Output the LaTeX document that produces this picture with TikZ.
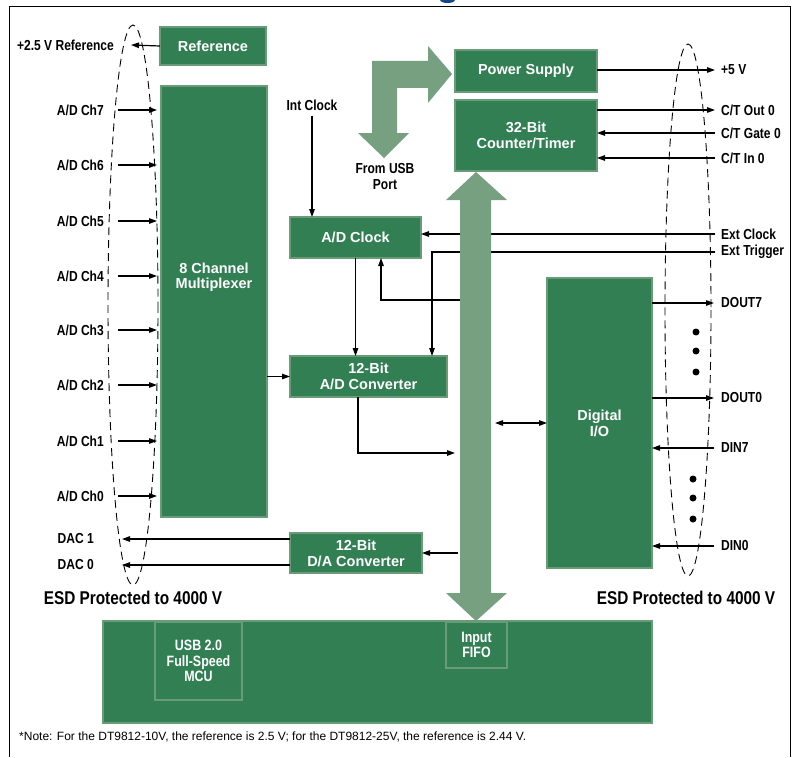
\documentclass[tikz,border=0pt]{standalone}
\usepackage{fontspec}
\setmainfont{Liberation Sans}
\newfontfamily\narrowsans{Liberation Sans}[FakeStretch=0.83]
\usetikzlibrary{arrows.meta,positioning,shapes.geometric}
\definecolor{boardgreen}{RGB}{50,127,84}
\definecolor{rimgreen}{RGB}{105,155,120}
\definecolor{busgreen}{RGB}{118,160,128}
\definecolor{titleblue}{RGB}{20,70,140}

\begin{document}
\begin{tikzpicture}[x=1pt, y=-1pt,
		>={Triangle[length=8pt,width=5.5pt]},
		block/.style = { rectangle, fill=boardgreen, draw=rimgreen, line width=1.5pt,
			text=white, font=\fontsize{14.5}{16}\selectfont\bfseries,
			align=center, inner sep=0pt, outer sep=0pt },
		chip/.style  = { block, font=\narrowsans\fontsize{15}{15.5}\selectfont\bfseries },
		pin/.style   = { font=\narrowsans\fontsize{14.5}{16}\selectfont\bfseries, inner sep=0pt },
		esd/.style   = { font=\narrowsans\fontsize{18.5}{20}\selectfont\bfseries, inner sep=0pt },
		line/.style  = { draw, line width=1.2pt, -> },
		zone/.style  = { draw, dash pattern=on 8pt off 5pt, line width=0.9pt },
	]
	\useasboundingbox (0,0) rectangle (794,757);
	% frame and cut title
	\draw[line width=0.8pt] (9,757) -- (9,6) -- (790,6) -- (790,757);
	\fill[titleblue] (440,0) .. controls (441,4) and (454,4) .. (455,0) -- cycle;
	% ESD zones
	\path[zone] (133,305) ellipse [x radius=25, y radius=280];
	\path[zone] (688,310) ellipse [x radius=23, y radius=266];
	% Define nodes
	\begin{scope}
		\node [block, minimum width=106pt, minimum height=38pt] (ref) at (213,46) {Reference};
		\node [block, minimum width=106pt, minimum height=431pt] (mux) at (214,301.5) {};
		\node [text=white, font=\fontsize{14.5}{14.5}\selectfont\bfseries, align=center] (muxtext) at (214,277) {8 Channel\\Multiplexer};
		\node [block, minimum width=131pt, minimum height=41pt] (adclk) at (355.5,237.5) {A/D Clock};
		\node [block, minimum width=157pt, minimum height=41pt] (adc) at (368.5,376.5) {12-Bit\\A/D Converter};
		\node [block, minimum width=132pt, minimum height=40pt] (dac) at (356,553) {12-Bit\\D/A Converter};
		\node [block, minimum width=142pt, minimum height=42pt] (psu) at (526,71) {Power Supply};
		\node [block, minimum width=142pt, minimum height=71pt] (ctr) at (526,135.5) {32-Bit\\Counter/Timer};
		\node [block, minimum width=105pt, minimum height=290pt] (dio) at (599.5,423) {Digital\\I/O};
		% left pins
		\node [pin, anchor=east] (vref) at (114,45) {+2.5 V Reference};
		\node [pin, anchor=east] (ch7) at (104,110) {A/D Ch7};
		\node [pin, anchor=east] (ch6) at (104,165) {A/D Ch6};
		\node [pin, anchor=east] (ch5) at (104,221) {A/D Ch5};
		\node [pin, anchor=east] (ch4) at (104,276) {A/D Ch4};
		\node [pin, anchor=east] (ch3) at (104,330) {A/D Ch3};
		\node [pin, anchor=east] (ch2) at (104,385) {A/D Ch2};
		\node [pin, anchor=east] (ch1) at (104,441) {A/D Ch1};
		\node [pin, anchor=east] (ch0) at (104,496) {A/D Ch0};
		\node [pin, anchor=east] (dac1) at (94,539) {DAC 1};
		\node [pin, anchor=east] (dac0) at (94,565) {DAC 0};
		% right pins
		\node [pin, anchor=west] (p5v) at (721,70) {+5 V};
		\node [pin, anchor=west] (ctout) at (721,110) {C/T Out 0};
		\node [pin, anchor=west] (ctgate) at (721,133) {C/T Gate 0};
		\node [pin, anchor=west] (ctin) at (721,158) {C/T In 0};
		\node [pin, anchor=west] (extclk) at (721,234) {Ext Clock};
		\node [pin, anchor=west] (exttrig) at (721,252) {Ext Trigger};
		\node [pin, anchor=west] (dout7) at (721,303) {DOUT7};
		\node [pin, anchor=west] (dout0) at (721,398) {DOUT0};
		\node [pin, anchor=west] (din7) at (721,448) {DIN7};
		\node [pin, anchor=west] (din0) at (721,546) {DIN0};
		\node [pin] (intclk) at (312,105) {Int Clock};
		\node [pin, align=center] (usbport) at (385,177) {From USB\\Port};
		\node [esd] (esdleft) at (133,598) {ESD Protected to 4000 V};
		\node [esd] (esdright) at (686,598) {ESD Protected to 4000 V};
		\node [font=\fontsize{12}{13}\selectfont, anchor=west, inner sep=0pt] (note) at (19,737)
			{*Note: For the DT9812-10V, the reference is 2.5 V; for the DT9812-25V, the reference is 2.44 V.};
	\end{scope}
	% bus edges and bends
	\coordinate (busw) at (460,0);
	\coordinate (buse) at (491,0);
	\coordinate (trigdrop) at (432,0);
	\coordinate (clkret) at (381,300);
	\coordinate (adcout) at (358,453);
	% connect all nodes defined above
	\begin{scope} [every path/.style=line]
		\path (ref.west) -- ([xshift=17pt]vref.east);
		\path [shorten >=4pt] ([xshift=14pt]ch7.east) -- (mux.west |- ch7);
		\path [shorten >=4pt] ([xshift=14pt]ch6.east) -- (mux.west |- ch6);
		\path [shorten >=4pt] ([xshift=14pt]ch5.east) -- (mux.west |- ch5);
		\path [shorten >=4pt] ([xshift=14pt]ch4.east) -- (mux.west |- ch4);
		\path [shorten >=4pt] ([xshift=14pt]ch3.east) -- (mux.west |- ch3);
		\path [shorten >=4pt] ([xshift=14pt]ch2.east) -- (mux.west |- ch2);
		\path [shorten >=4pt] ([xshift=14pt]ch1.east) -- (mux.west |- ch1);
		\path [shorten >=4pt] ([xshift=14pt]ch0.east) -- (mux.west |- ch0);
		\path (dac.west |- dac1) -- ([xshift=28pt]dac1.east);
		\path (dac.west |- dac0) -- ([xshift=28pt]dac0.east);
		\path (psu.east |- p5v) -- ([xshift=-6pt]p5v.west);
		\path (ctr.east |- ctout) -- ([xshift=-6pt]ctout.west);
		\path ([xshift=-6pt]ctgate.west) -- (ctr.east |- ctgate);
		\path ([xshift=-6pt]ctin.west) -- (ctr.east |- ctin);
		\path ([xshift=-6pt]extclk.west) -- (adclk.east |- extclk);
		\path ([xshift=-6pt]exttrig.west) -| (trigdrop |- adc.north);
		\path [shorten <=5pt] (intclk.south) -- (intclk.south |- adclk.north);
		\path (adclk.south) -- (adclk.south |- adc.north);
		\path (mux.east |- adc.west) -- (adc.west);
		\path (busw |- clkret) -- (clkret) -- (clkret |- adclk.south);
		\path [shorten >=5pt] (adcout |- adc.south) -- (adcout) -- (busw |- adcout);
		\path [<->, shorten <=4pt] (buse |- dio.west) -- (dio.west);
		\path [shorten <=2pt] (busw |- dac.east) -- (dac.east);
		\path (dio.east |- dout7) -- ([xshift=-7pt]dout7.west);
		\path (dio.east |- dout0) -- ([xshift=-7pt]dout0.west);
		\path ([xshift=-7pt]din7.west) -- (dio.east |- din7);
		\path ([xshift=-7pt]din0.west) -- (dio.east |- din0);
	\end{scope}
	% more bits
	\fill (696,332) circle [radius=3.5] (696,351) circle [radius=3.5] (696,372) circle [radius=3.5];
	\fill (693,479) circle [radius=3.5] (693,498) circle [radius=3.5] (693,519) circle [radius=3.5];
	% fat arrows: internal bus and USB power
	\fill[busgreen] (460,200) -- (446,200) -- (476,172) -- (507,200) -- (491,200) -- (491,593)
		-- (507,593) -- (476,621) -- (446,593) -- (460,593) -- cycle;
	\fill[busgreen] (372,133) -- (358,133) -- (384,158) -- (409,133) -- (397,133) -- (397,88)
		-- (428,88) -- (428,103) -- (452,74) -- (428,46) -- (428,61) -- (372,61) -- cycle;
	% board
	\node [block, minimum width=549pt, minimum height=102pt] (board) at (377.5,672) {};
	\node [chip, minimum width=87pt, minimum height=78pt] (mcu) at (198.5,661) {USB 2.0\\Full-Speed\\MCU};
	\node [chip, minimum width=61pt, minimum height=46pt] (fifo) at (476.5,645) {Input\\FIFO};
\end{tikzpicture}
\end{document}
